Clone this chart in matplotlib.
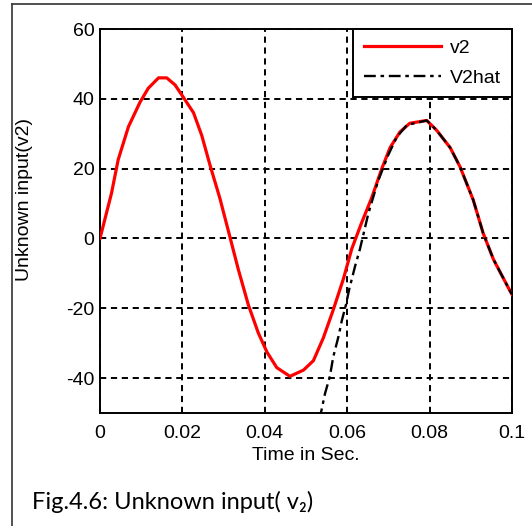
import matplotlib
matplotlib.use("Agg")
import matplotlib.pyplot as plt
from matplotlib.lines import Line2D

# values
t_v2 = [0.0, 0.0028, 0.0044, 0.0069, 0.0097, 0.0117, 0.0142, 0.0162, 0.0182,
        0.0202, 0.0227, 0.0247, 0.0267, 0.0291, 0.0313, 0.0336, 0.036, 0.0384,
        0.0405, 0.0429, 0.0461, 0.0494, 0.0518, 0.0542, 0.0566, 0.0591, 0.0611,
        0.0635, 0.0659, 0.0684, 0.0704, 0.0728, 0.0752, 0.0793, 0.0817, 0.085,
        0.0874, 0.0906, 0.093, 0.0955, 0.0995, 0.1]
v2 = [0.0, 13, 22.5, 32, 39, 43, 46, 46, 44,
      40.5, 36, 29.5, 21, 11.5, 1.5, -9, -19, -27,
      -32.5, -37, -39.5, -37.7, -35, -28.5, -20.5, -11.5, -3,
      4.5, 11.5, 20, 26, 30.5, 33, 33.8, 31, 26,
      20.5, 11, 1.5, -6, -15, -16]

t_v2hat = [0.0532, 0.0538, 0.0546, 0.0558, 0.0566, 0.0579, 0.0587, 0.0597,
           0.0605, 0.0619, 0.0631, 0.0651, 0.0675, 0.07, 0.072, 0.0745,
           0.0793, 0.0817, 0.085, 0.0874, 0.0906, 0.093, 0.0955, 0.0995, 0.1]
v2hat = [-52, -49, -44.5, -39.5, -34, -28, -23.5, -19,
         -14.5, -8, -3, 7, 16.5, 24, 29, 32.5,
         33.8, 31, 26, 20.5, 11, 1.5, -6, -15, -16]

xticks = [0, 0.02, 0.04, 0.06, 0.08, 0.1]
xticklabels = ["0", "0.02", "0.04", "0.06", "0.08", "0.1"]
yticks = [-40, -20, 0, 20, 40, 60]

plt.rcParams["font.family"] = ["Liberation Sans", "DejaVu Sans"]
plt.rcParams["axes.unicode_minus"] = False

W, H = 532, 526
fs = 14
fig = plt.figure(figsize=(W / 100, H / 100), dpi=100)
fig.patch.set_facecolor("white")
ax = fig.add_axes([100 / W, 1 - 413 / H, 412 / W, 384 / H])

ax.plot(t_v2, v2, color="red", lw=2.3, label="v2", zorder=3)
ax.plot(t_v2hat, v2hat, color="black", lw=1.7, ls=(0, (5, 2, 1.5, 2)),
        label="V2hat", zorder=4)

ax.set_xlim(0, 0.1)
ax.set_ylim(-50, 60)
ax.set_xticks(xticks)
ax.set_xticklabels(xticklabels)
ax.set_yticks(yticks)
ax.tick_params(labelsize=fs, length=0)
ax.tick_params(axis="x", pad=9)
ax.tick_params(axis="y", pad=4)
ax.grid(True, color="black", ls=(0, (3.2, 2.4)), lw=1.4)
for s in ax.spines.values():
    s.set_linewidth(1.4)

ax.set_xlabel("Time in Sec.", fontsize=fs, labelpad=3)
ax.set_ylabel("Unknown input(v2)", fontsize=fs)
ax.yaxis.set_label_coords(-0.162, 0.555)

leg = ax.legend(loc="upper right", bbox_to_anchor=(1, 1), borderaxespad=0,
                fancybox=False, edgecolor="black", framealpha=1,
                fontsize=fs, handlelength=4.0, handletextpad=0.45,
                borderpad=0.55, labelspacing=0.6)
leg.get_frame().set_linewidth(1.4)

fig.text(32 / W, 1 - 509 / H, "Fig.4.6: Unknown input( v\u2082)",
         fontsize=17, family=["Lato", "DejaVu Sans"], va="baseline")

# page frame
fig.add_artist(Line2D([12 / W, 1], [1 - 4 / H, 1 - 4 / H],
                      transform=fig.transFigure, color="#333333", lw=1.2))
fig.add_artist(Line2D([12 / W, 12 / W], [0, 1 - 4 / H],
                      transform=fig.transFigure, color="#333333", lw=1.2))

fig.savefig("out.png", dpi=100)
